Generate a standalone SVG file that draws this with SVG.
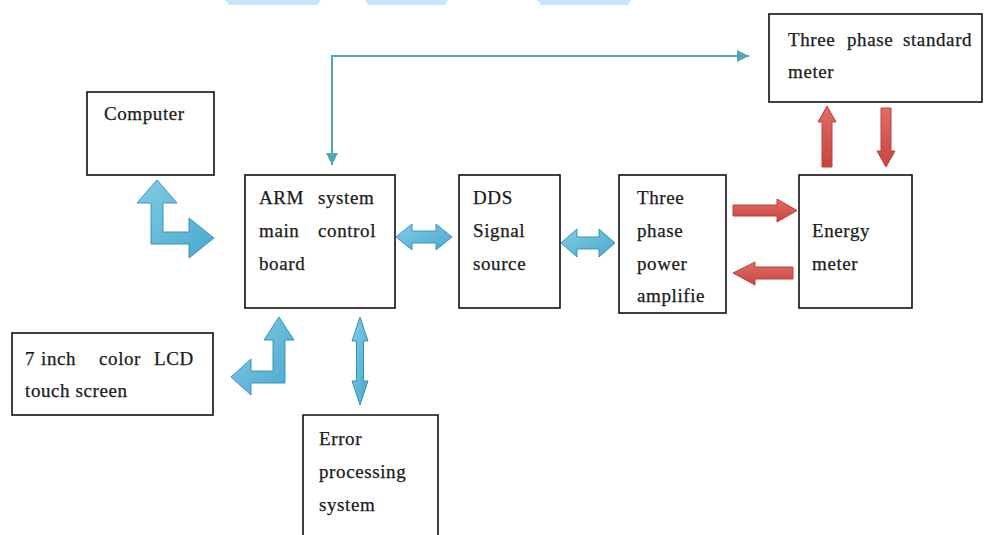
<svg xmlns="http://www.w3.org/2000/svg" width="984" height="535" viewBox="0 0 984 535">
  <style>
    .box { fill: #ffffff; stroke: #111111; stroke-width: 1.6; }
    .lbl { font-family: "Liberation Serif", "DejaVu Serif", serif; font-size: 19px; letter-spacing: 0.6px; fill: #1a1a1a; stroke: #1a1a1a; stroke-width: 0.25; }
    .blue { fill: url(#blueFill); stroke: #3b94b8; stroke-width: 1; stroke-linejoin: round; }
    .red { fill: url(#redFill); stroke: #b9423d; stroke-width: 1; stroke-linejoin: round; }
    .wire { fill: none; stroke: #4ea7b3; stroke-width: 2; }
    .mark { fill: #4ea7b3; }
  </style>
  <defs>
    <linearGradient id="blueFill" x1="0" y1="0" x2="1" y2="1">
      <stop offset="0" stop-color="#82cde6"/>
      <stop offset="1" stop-color="#4aa7cd"/>
    </linearGradient>
    <linearGradient id="redFill" x1="0" y1="0" x2="0" y2="1">
      <stop offset="0" stop-color="#e06d66"/>
      <stop offset="1" stop-color="#c9443f"/>
    </linearGradient>
    <marker id="tip" viewBox="0 0 10 10" refX="10" refY="5" markerWidth="12" markerHeight="12" markerUnits="userSpaceOnUse" orient="auto-start-reverse">
      <path class="mark" d="M0,0 L10,5 L0,10 Z"/>
    </marker>
  </defs>

  <rect width="984" height="535" fill="#ffffff"/>

  <!-- pale header marks along the top edge -->
  <g fill="#c9e5f9">
    <polygon points="225,0 321,0 317,5 229,5"/>
    <polygon points="365,0 448,0 445,5 368,5"/>
    <polygon points="537,0 631,0 628,5 541,5"/>
  </g>

  <!-- connectors -->
  <g id="connectors">
    <path class="wire" d="M332,165 V56 H749" marker-start="url(#tip)" marker-end="url(#tip)"/>
    <!-- computer <-> ARM -->
    <polygon class="blue" points="157,180 177,203 163,203 163,232 189,232 189,218 214,238 189,258 189,244 151,244 151,203 137,203"/>
    <!-- LCD <-> ARM -->
    <polygon class="blue" points="279,317 294,340 285,340 285,383 251,383 251,395 231,377 251,359 251,371 273,371 273,340 264,340"/>
    <!-- ARM <-> DDS -->
    <polygon class="blue" points="396,237 412,224 412,231 436,231 436,224 452,237 436,250 436,243 412,243 412,250"/>
    <!-- DDS <-> amplifier -->
    <polygon class="blue" points="561,243 577,229 577,237 599,237 599,229 615,243 599,257 599,249 577,249 577,257"/>
    <!-- ARM <-> error processing -->
    <polygon class="blue" points="360,317 368,341 363.5,341 363.5,381 368,381 360,405 352,381 356.5,381 356.5,341 352,341"/>
    <!-- amplifier <-> energy meter -->
    <polygon class="red" points="733,205 777,205 777,199 797,210.5 777,222 777,216 733,216"/>
    <polygon class="red" points="733,273 755,262 755,267 793,267 793,279 755,279 755,285"/>
    <!-- energy meter <-> standard meter -->
    <polygon class="red" points="827,106 836,122 832,122 832,167 822,167 822,122 818,122"/>
    <polygon class="red" points="881,108 891,108 891,151 895,151 886,167 877,151 881,151"/>
  </g>

  <g id="computer">
    <rect class="box" x="87" y="92" width="127" height="83"/>
    <text class="lbl" x="104" y="120">Computer</text>
  </g>

  <g id="arm-board">
    <rect class="box" x="245" y="175" width="150" height="133"/>
    <text class="lbl" y="204"><tspan x="259">ARM</tspan><tspan x="318">system</tspan></text>
    <text class="lbl" y="237"><tspan x="259">main</tspan><tspan x="318">control</tspan></text>
    <text class="lbl" x="259" y="270">board</text>
  </g>

  <g id="dds-source">
    <rect class="box" x="459" y="175" width="101" height="133"/>
    <text class="lbl" x="473" y="204">DDS</text>
    <text class="lbl" x="473" y="237">Signal</text>
    <text class="lbl" x="473" y="270">source</text>
  </g>

  <g id="power-amplifier">
    <rect class="box" x="619" y="175" width="107" height="138"/>
    <text class="lbl" x="637" y="204">Three</text>
    <text class="lbl" x="637" y="237">phase</text>
    <text class="lbl" x="637" y="270">power</text>
    <text class="lbl" x="637" y="302">amplifie</text>
  </g>

  <g id="energy-meter">
    <rect class="box" x="799" y="175" width="113" height="133"/>
    <text class="lbl" x="812" y="237">Energy</text>
    <text class="lbl" x="812" y="270">meter</text>
  </g>

  <g id="standard-meter">
    <rect class="box" x="769" y="14" width="213" height="88"/>
    <text class="lbl" y="46"><tspan x="788">Three</tspan><tspan x="847">phase</tspan><tspan x="903">standard</tspan></text>
    <text class="lbl" x="788" y="78">meter</text>
  </g>

  <g id="lcd-screen">
    <rect class="box" x="12" y="333" width="201" height="82"/>
    <text class="lbl" y="365"><tspan x="25">7</tspan><tspan x="41">inch</tspan><tspan x="99">color</tspan><tspan x="154">LCD</tspan></text>
    <text class="lbl" x="25" y="397">touch screen</text>
  </g>

  <g id="error-processing">
    <path class="box" d="M303,540 V415 H438 V540"/>
    <text class="lbl" x="319" y="445">Error</text>
    <text class="lbl" x="319" y="478">processing</text>
    <text class="lbl" x="319" y="511">system</text>
  </g>
</svg>
